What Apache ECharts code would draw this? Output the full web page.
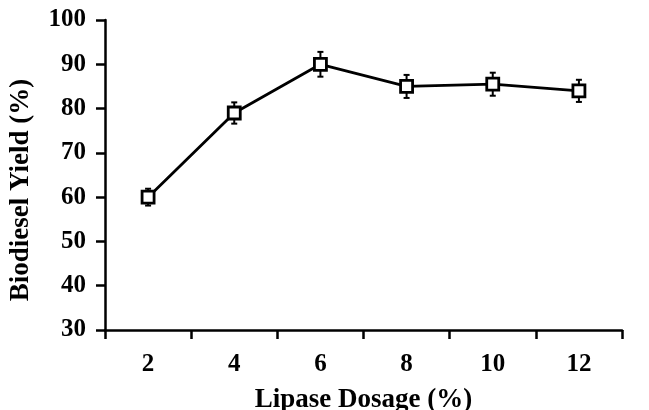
<!DOCTYPE html>
<html><head><meta charset="utf-8">
<script src="https://cdn.jsdelivr.net/npm/echarts@6/dist/echarts.min.js"></script>
<style>html,body{margin:0;padding:0;background:#fff}#c{width:649px;height:410px}</style>
</head><body><div id="c"></div>
<script>
const categories = ['2','4','6','8','10','12'];
const yieldValues = [60, 79, 90, 85, 85.5, 84];
const errorValues = [1.9, 2.4, 2.8, 2.6, 2.6, 2.5];
const yTicks = [30, 40, 50, 60, 70, 80, 90, 100];

const errData = categories.map((c, i) => [i, yieldValues[i] - errorValues[i], yieldValues[i] + errorValues[i]]);
const font = 'Liberation Serif';
const chart = echarts.init(document.getElementById('c'));
chart.setOption({
  animation: false,
  grid: {left: 105, right: 27, top: 20, bottom: 80, containLabel: false, outerBoundsMode: 'none'},
  xAxis: {
    type: 'category', data: categories, boundaryGap: true,
    name: 'Lipase Dosage (%)', nameLocation: 'middle', nameGap: 57,
    nameTextStyle: {fontFamily: font, fontWeight: 'bold', fontSize: 27, color: '#000'},
    axisLine: {lineStyle: {color: '#000', width: 2.5}},
    axisTick: {show: true, alignWithLabel: false, length: 9, lineStyle: {color: '#000', width: 2.5}},
    axisLabel: {fontFamily: font, fontWeight: 'bold', fontSize: 25, color: '#000', margin: 22},
    splitLine: {show: false}
  },
  yAxis: {
    type: 'value', min: yTicks[0], max: yTicks[yTicks.length - 1], interval: 10,
    name: 'Biodiesel Yield (%)', nameLocation: 'middle', nameGap: 70, nameRotate: 90,
    nameTextStyle: {fontFamily: font, fontWeight: 'bold', fontSize: 27, color: '#000', padding: [0, 30, 0, 0]},
    axisLine: {show: true, lineStyle: {color: '#000', width: 2.5}},
    axisTick: {show: true, length: 9, lineStyle: {color: '#000', width: 2.5}},
    axisLabel: {fontFamily: font, fontWeight: 'bold', fontSize: 25, color: '#000', margin: 19, padding: [4, 0, 0, 0]},
    splitLine: {show: false}
  },
  series: [
    {
      type: 'custom',
      data: errData,
      z: 3,
      renderItem: function (params, api) {
        const x = api.value(0);
        const lo = api.coord([x, api.value(1)]);
        const hi = api.coord([x, api.value(2)]);
        const w = 3;
        const st = {stroke: '#000', lineWidth: 2};
        return {type: 'group', children: [
          {type: 'line', shape: {x1: lo[0], y1: lo[1], x2: hi[0], y2: hi[1]}, style: st},
          {type: 'line', shape: {x1: lo[0] - w, y1: lo[1], x2: lo[0] + w, y2: lo[1]}, style: st},
          {type: 'line', shape: {x1: hi[0] - w, y1: hi[1], x2: hi[0] + w, y2: hi[1]}, style: st}
        ]};
      }
    },
    {
      type: 'line',
      data: yieldValues,
      z: 5,
      lineStyle: {color: '#000', width: 2.8},
      symbol: 'rect', symbolSize: 12,
      itemStyle: {color: '#fff', borderColor: '#000', borderWidth: 2.8},
      showAllSymbol: true
    }
  ]
});
</script></body></html>
